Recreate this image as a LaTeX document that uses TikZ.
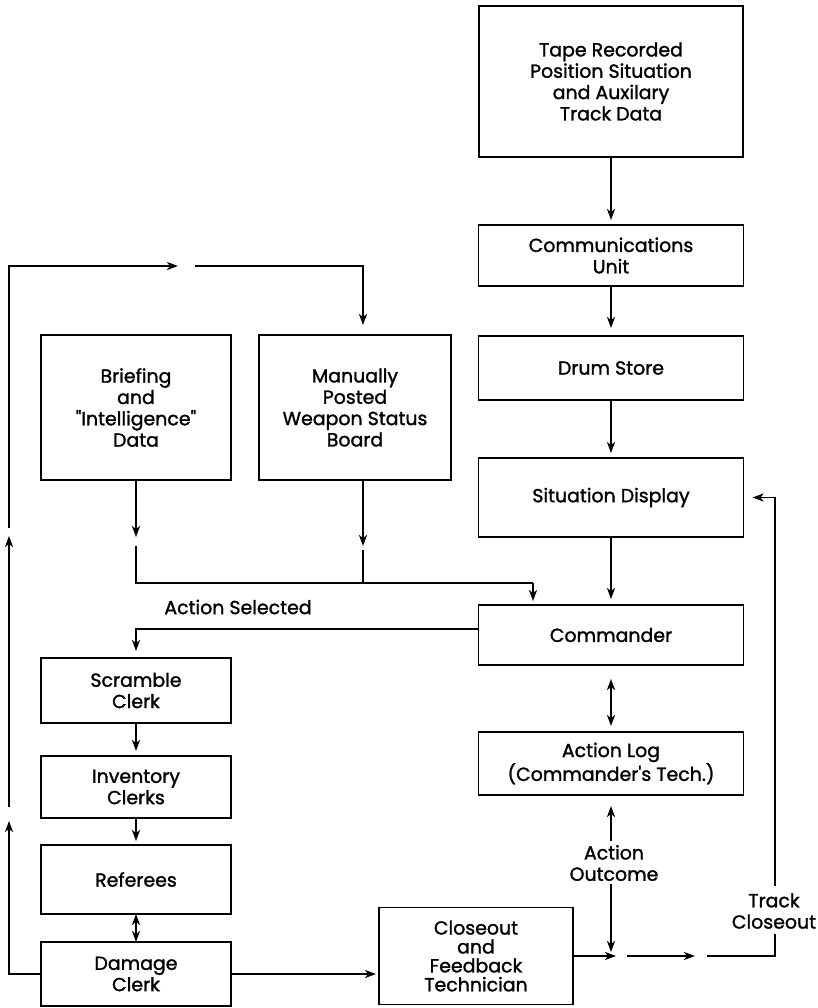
\documentclass[tikz,border=0pt]{standalone}
\usepackage{fontspec}
\setmainfont{Poppins}[FakeBold=1.4]
\newfontfamily\qfont{Poppins}[FakeBold=1.4]
\usetikzlibrary{arrows.meta,calc}
\newcommand\dfont{\fontsize{19}{21.4}\selectfont}
\newcommand\sq{{\qfont"}}
\newcommand\ap{{\qfont'}}
\begin{document}
\begin{tikzpicture}[x=1bp,y=-1bp,
  box/.style={draw,line width=1.8bp,inner sep=0pt,outer sep=0pt,align=center,font=\dfont},
  lbl/.style={inner sep=0pt,align=center,font=\dfont},
  conn/.style={line width=1.8bp},
  arr/.style={conn,-{Stealth[length=11bp,width=8bp,inset=3bp]}},
  darr/.style={conn,{Stealth[length=11bp,width=8bp,inset=3bp]}-{Stealth[length=11bp,width=8bp,inset=3bp]}}]
\fill[white] (0,0) rectangle (818,1008);
\useasboundingbox (0,0) rectangle (818,1008);
% right column
\node[box,minimum width=264bp,minimum height=151bp] (tape) at (611,81.5) {Tape Recorded\\Position Situation\\and Auxilary\\Track Data};
\node[box,minimum width=265bp,minimum height=61bp] (comm) at (611,255.5) {Communications\\Unit};
\node[box,minimum width=265bp,minimum height=64bp] (drum) at (611,368) {Drum Store};
\node[box,minimum width=265bp,minimum height=79bp] (sit) at (611,497.5) {Situation Display};
\node[box,minimum width=265bp,minimum height=60bp] (cmd) at (611,635) {Commander};
\node[box,minimum width=265bp,minimum height=63bp] (log) at (611,763.5) {Action Log\\(Commander\ap s Tech.)};
% upper left
\node[box,minimum width=190bp,minimum height=145bp] (brief) at (136,407.5) {Briefing\\and\\\sq Intelligence\sq\\Data};
\node[box,minimum width=192bp,minimum height=145bp] (manual) at (355,407.5) {Manually\\Posted\\Weapon Status\\Board};
% lower left
\node[box,minimum width=190bp,minimum height=65bp] (scramble) at (136,690.5) {Scramble\\Clerk};
\node[box,minimum width=190bp,minimum height=62bp] (inventory) at (136,787) {Inventory\\Clerks};
\node[box,minimum width=190bp,minimum height=69bp] (referees) at (136,879.5) {Referees};
\node[box,minimum width=190bp,minimum height=64bp] (damage) at (136,974) {Damage\\Clerk};
\node[box,minimum width=194bp,minimum height=97bp,font=\fontsize{19}{19}\selectfont] (closeout) at (476,956) {Closeout\\and\\Feedback\\Technician};
% labels
\node[lbl] (aslbl) at (238,607) {Action Selected};
\node[lbl] (aolbl) at (614,863) {Action\\Outcome};
\node[lbl] (tclbl) at (774,911) {Track\\Closeout};
% right column arrows
\draw[arr,shorten >=5bp] (tape.south) -- (comm.north);
\draw[arr,shorten >=8bp] (comm.south) -- (drum.north);
\draw[arr,shorten >=5bp] (drum.south) -- (sit.north);
\draw[arr,shorten >=6bp] (sit.south) -- (cmd.north);
\draw[darr,shorten <=14bp,shorten >=6bp] (cmd.south) -- (log.north);
% action outcome
\coordinate (ao1) at (611,841);
\coordinate (ao2) at (611,884);
\coordinate (j1) at (611,956);
\draw[arr,shorten >=11bp] (ao1) -- (log.south);
\draw[arr,shorten >=4bp] (ao2) -- (j1);
% bottom line to track closeout
\coordinate (h1) at (616,956);
\coordinate (h2) at (627,956);
\coordinate (h3) at (695,956);
\coordinate (h4) at (707,956);
\coordinate (tc1) at (775,934);
\coordinate (tc2) at (775,886);
\draw[arr] (closeout.east) -- (h1);
\draw[arr] (h2) -- (h3);
\draw[conn] (h4) -| (tc1);
\draw[arr,shorten >=9bp] (tc2) |- (sit.east);
% left loop
\coordinate (L1) at (9,821);
\coordinate (L2) at (9,807);
\coordinate (L3) at (9,536);
\coordinate (L4) at (9,528);
\coordinate (L5) at (178,266);
\coordinate (L6) at (195,266);
\draw[arr] (damage.west) -| (L1);
\draw[arr] (L2) -- (L3);
\draw[arr] (L4) |- (L5);
\draw[arr,shorten >=10bp] (L6) -| ([xshift=8bp]manual.north);
% merge into commander
\coordinate (b1) at (136,537);
\coordinate (b2) at (136,546);
\coordinate (w1) at (363,546);
\coordinate (w2) at (363,550);
\coordinate (mg) at (533,583);
\draw[arr] (brief.south) -- (b1);
\draw[arr] ([xshift=8bp]manual.south) -- (w1);
\draw[conn] (b2) |- (mg);
\draw[conn] (w2) -- (w2 |- mg);
\draw[arr,shorten >=4bp] (mg) -- (mg |- cmd.north);
% action selected
\draw[arr,shorten >=7bp] ([yshift=6bp]cmd.west) -| (scramble.north);
% left column
\draw[arr,shorten >=5bp] (scramble.south) -- (inventory.north);
\draw[arr,shorten >=4bp] (inventory.south) -- (referees.north);
\draw[darr] (referees.south) -- (damage.north);
\draw[arr,shorten >=3bp] (damage.east) -- (damage.east -| closeout.west);
\end{tikzpicture}
\end{document}
